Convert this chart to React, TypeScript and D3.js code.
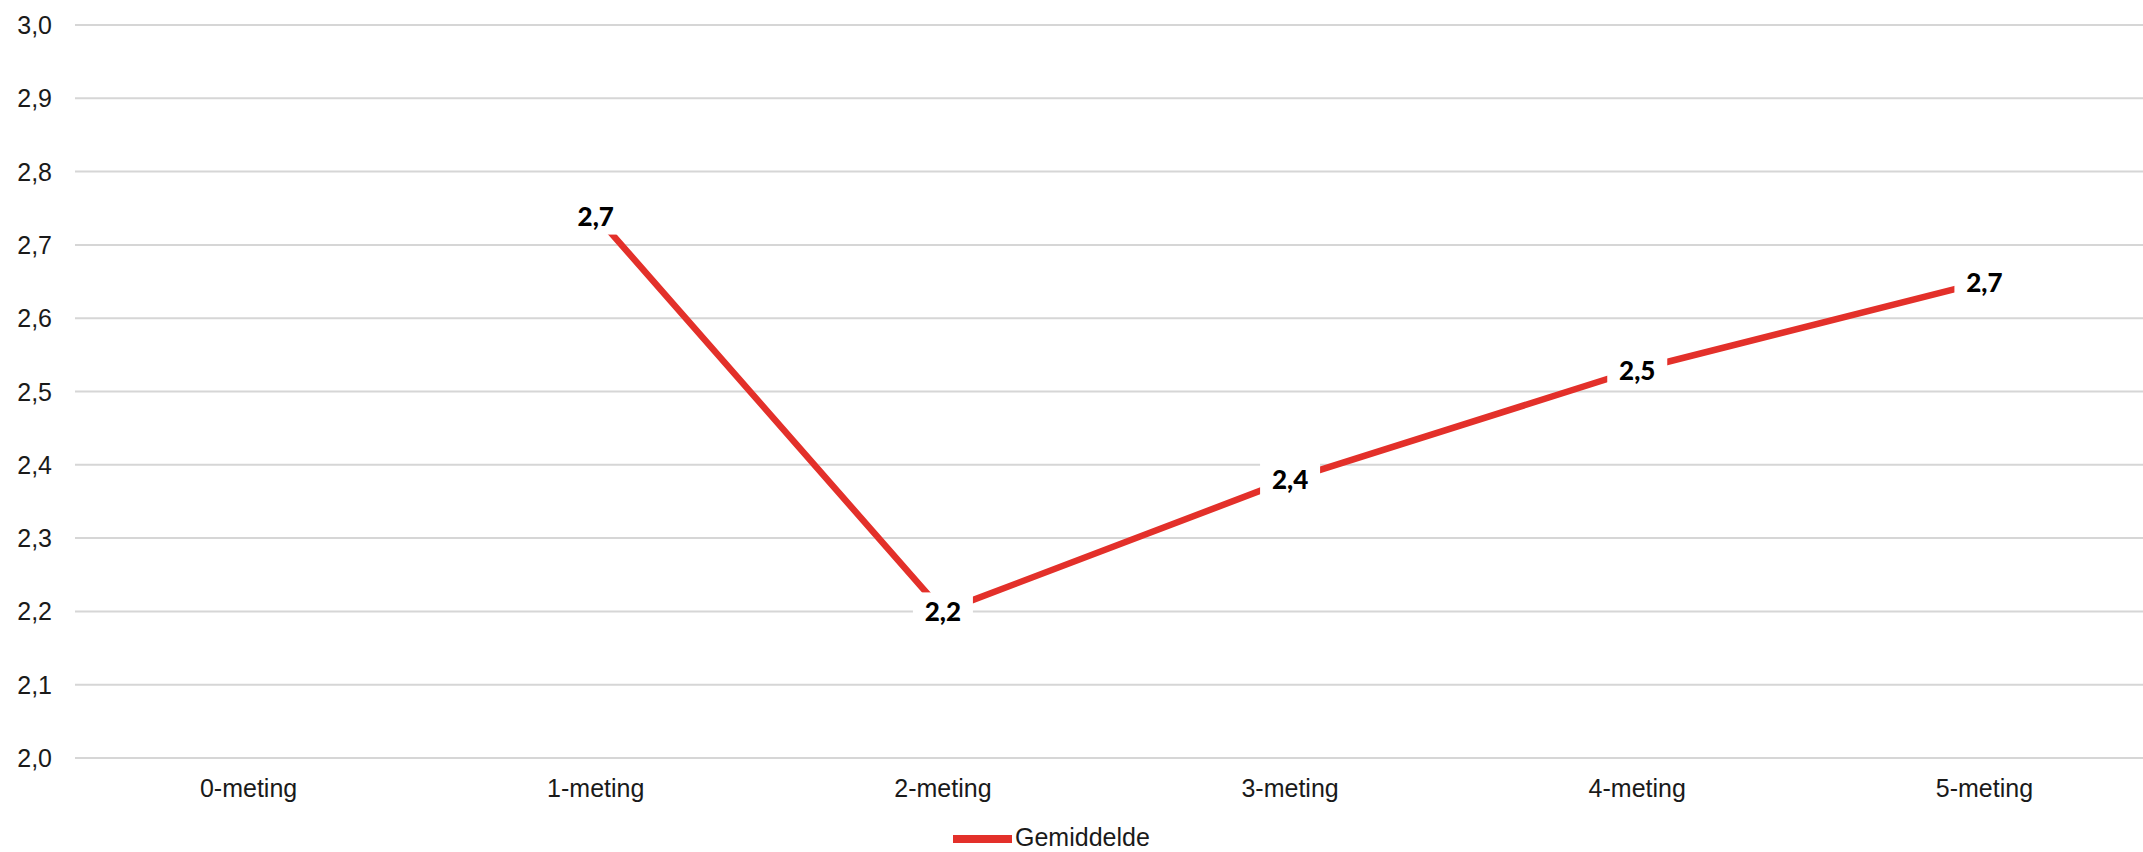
import React from "react";
import * as d3 from "d3";

const categories = ["0-meting", "1-meting", "2-meting", "3-meting", "4-meting", "5-meting"];
const gemiddelde: (number | null)[] = [null, 2.74, 2.2, 2.38, 2.53, 2.65];
const yTicks = [2.0, 2.1, 2.2, 2.3, 2.4, 2.5, 2.6, 2.7, 2.8, 2.9, 3.0];
const seriesName = "Gemiddelde";

const W = 2143;
const H = 852;
const RED = "#e3302a";

const fmt = (v: number) => (Math.round(v * 10 + 1e-9) / 10).toFixed(1).replace(".", ",");

export default function App() {
  const x = d3.scaleBand<string>().domain(categories).range([75, 2158]);
  const y = d3.scaleLinear().domain([2.0, 3.0]).range([758, 25]);
  const cx = (c: string) => (x(c) as number) + x.bandwidth() / 2;

  const pts = categories
    .map((c, i) => ({ c, v: gemiddelde[i] }))
    .filter((d) => d.v !== null) as { c: string; v: number }[];

  const line = d3
    .line<{ c: string; v: number }>()
    .x((d) => cx(d.c))
    .y((d) => y(d.v));

  const axisFont = "'Liberation Sans', Arial, sans-serif";

  return (
    <>
      <style>{`body{margin:0;background:#fff}`}</style>
      <svg width={W} height={H} style={{ display: "block", background: "#ffffff" }}>
        {yTicks.map((t) => (
          <g key={t}>
            <line x1={75} x2={W} y1={y(t)} y2={y(t)} stroke="#d6d6d6" strokeWidth={2} />
            <text
              x={52}
              y={y(t)}
              textAnchor="end"
              dominantBaseline="central"
              fontFamily={axisFont}
              fontSize={25}
              fill="#1a1a1a"
            >
              {t.toFixed(1).replace(".", ",")}
            </text>
          </g>
        ))}
        {categories.map((c) => (
          <text
            key={c}
            x={cx(c)}
            y={797}
            textAnchor="middle"
            fontFamily={axisFont}
            fontSize={25}
            fill="#1a1a1a"
          >
            {c}
          </text>
        ))}
        <path d={line(pts) || ""} fill="none" stroke={RED} strokeWidth={6.5} strokeLinejoin="round" />
        {pts.map((d) => (
          <g key={d.c}>
            <rect x={cx(d.c) - 30} y={y(d.v) - 19} width={60} height={38} fill="#ffffff" />
            <text
              x={cx(d.c)}
              y={y(d.v)}
              textAnchor="middle"
              dominantBaseline="central"
              fontFamily="Lato, 'Open Sans', sans-serif"
              fontWeight={900}
              fontSize={26}
              fill="#000"
            >
              {fmt(d.v)}
            </text>
          </g>
        ))}
        <line x1={953} x2={1012} y1={839} y2={839} stroke={RED} strokeWidth={8} />
        <text x={1015} y={846} fontFamily={axisFont} fontSize={25} fill="#1a1a1a">
          {seriesName}
        </text>
      </svg>
    </>
  );
}
